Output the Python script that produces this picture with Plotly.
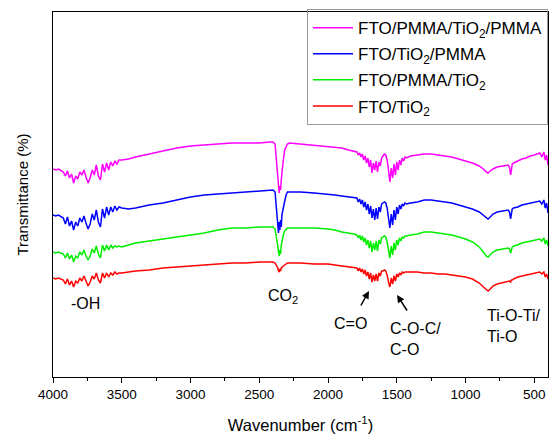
import plotly.graph_objects as go

# Wavenumber grid (cm^-1)
wavenumber = [
    4000, 3980, 3960, 3940,
    3925, 3910, 3895, 3880, 3865, 3850, 3835, 3820, 3805, 3790, 3775, 3760, 3745, 3730,
    3715, 3700, 3685, 3670, 3655, 3640, 3625, 3610, 3595, 3580, 3565, 3550, 3535, 3520,
    3500, 3450, 3400, 3300, 3200, 3100, 3000, 2900, 2800, 2700, 2600, 2500, 2420,
    2400, 2385, 2375, 2365, 2360, 2355, 2350, 2345, 2340, 2335, 2325, 2315, 2305, 2295, 2280,
    2200, 2100, 2000, 1950, 1900, 1850, 1810,
    1790, 1780, 1770, 1760, 1750, 1740, 1730, 1720, 1710, 1700, 1690, 1680, 1670, 1660,
    1650, 1640, 1630, 1620, 1610, 1600,
    1590, 1580, 1570,
    1560, 1550, 1540, 1530, 1520, 1510, 1500, 1490, 1480, 1470, 1460, 1450, 1440, 1430,
    1400, 1350, 1300, 1250, 1200, 1150, 1100, 1050, 1000, 950,
    900, 870, 850, 836, 820, 800, 770, 740, 710, 690,
    680, 672, 666, 660, 650, 620, 590, 560, 530, 500,
    480, 460, 445, 430, 420, 410, 400,
]

# Transmittance (arbitrary units, spectra stacked)
t_pmma_tio2_pmma = [
    231, 230, 231, 229,
    228, 224, 229, 222, 226, 217, 224, 221, 228, 225, 230, 223, 217, 222,
    230, 225, 235, 224, 220, 236, 228, 237, 230, 238, 234, 239, 236, 240,
    240, 241, 243, 246, 249, 252, 254, 255, 256, 257, 257, 257, 258,
    258, 256, 242, 225, 215, 207, 214, 210, 220, 228, 240, 250, 254, 256, 257,
    256, 255, 254, 253, 252, 250, 249,
    248, 245, 247, 243, 246, 240, 244, 237, 242, 233, 240, 227, 237, 230,
    239, 228, 238, 234, 242, 244,
    246, 245, 240,
    230, 218, 232, 222, 236, 225, 238, 230, 240, 235, 242, 239, 243, 242,
    244, 245, 246, 246, 245, 244, 243, 241, 239, 237,
    234, 231, 228, 227, 229, 231, 233, 234, 235, 235,
    233, 225, 230, 236, 237, 239, 241, 242, 244, 245,
    246, 247, 243, 248, 240, 245, 235,
]

t_tio2_pmma = [
    185, 184, 185, 183,
    182, 176, 183, 174, 179, 170, 178, 174, 182, 178, 184, 177, 171, 176,
    186, 180, 190, 178, 173, 191, 182, 193, 185, 193, 188, 194, 190, 193,
    192, 191, 192, 195, 197, 200, 203, 205, 206, 207, 208, 209, 210,
    210, 208, 195, 175, 167, 178, 170, 180, 173, 185, 192, 200, 205, 208, 208,
    208, 207, 206, 205, 204, 203, 202,
    202, 198, 201, 196, 200, 193, 198, 190, 196, 186, 194, 182, 191, 180,
    192, 181, 193, 188, 196, 197,
    198, 197, 192,
    182, 172, 186, 175, 190, 180, 193, 186, 195, 191, 196, 194, 197, 196,
    197, 198, 200, 200, 199, 198, 197, 195, 193, 191,
    188, 185, 183, 181, 183, 186, 188, 189, 190, 190,
    188, 181, 186, 191, 192, 193, 195, 196, 197, 198,
    198, 199, 196, 200, 192, 197, 187,
]

t_pmma_tio2 = [
    148, 147, 148, 147,
    146, 142, 147, 141, 145, 138, 144, 142, 148, 145, 150, 144, 140, 144,
    151, 147, 154, 146, 142, 155, 149, 155, 150, 155, 152, 154, 153, 154,
    153, 155, 157, 159, 161, 163, 165, 167, 170, 172, 172, 173, 173,
    173, 171, 164, 154, 148, 144, 150, 146, 155, 160, 165, 169, 171, 172, 172,
    172, 172, 171, 170, 168, 167, 166,
    165, 162, 165, 160, 164, 158, 162, 155, 160, 152, 159, 148, 157, 150,
    159, 149, 160, 156, 162, 163,
    164, 163, 158,
    150, 142, 154, 145, 157, 150, 160, 155, 162, 159, 163, 162, 164, 164,
    165, 166, 168, 168, 167, 166, 165, 163, 161, 158,
    153, 148, 144, 143, 145, 148, 150, 151, 152, 152,
    151, 147, 150, 153, 154, 155, 157, 158, 159, 160,
    160, 161, 159, 162, 156, 160, 154,
]

t_tio2 = [
    122, 121, 122, 121,
    120, 116, 121, 115, 119, 113, 119, 117, 122, 119, 124, 119, 114, 118,
    124, 121, 127, 120, 117, 127, 122, 127, 123, 127, 125, 128, 126, 127,
    127, 128, 129, 130, 132, 133, 134, 135, 136, 137, 137, 138, 138,
    138, 137, 135, 132, 129, 128, 131, 129, 132, 133, 134, 135, 136, 137, 137,
    137, 136, 136, 135, 134, 133, 132,
    132, 129, 132, 128, 131, 126, 130, 124, 128, 121, 127, 118, 125, 119,
    126, 119, 127, 124, 129, 129,
    130, 129, 125,
    118, 113, 122, 116, 124, 119, 126, 123, 127, 125, 128, 127, 128, 128,
    128, 128, 127, 127, 126, 126, 125, 124, 123, 121,
    117, 113, 110, 109, 111, 114, 116, 117, 118, 119,
    119, 118, 120, 120, 121, 123, 124, 125, 126, 127,
    127, 128, 126, 128, 123, 126, 121,
]

series_names = [
    "FTO/PMMA/TiO<sub>2</sub>/PMMA",
    "FTO/TiO<sub>2</sub>/PMMA",
    "FTO/PMMA/TiO<sub>2</sub>",
    "FTO/TiO<sub>2</sub>",
]
series_values = [t_pmma_tio2_pmma, t_tio2_pmma, t_pmma_tio2, t_tio2]
series_colors = ["#FF00FF", "#0000FF", "#00EE00", "#FF0000"]

tick_values = [4000, 3500, 3000, 2500, 2000, 1500, 1000, 500]

FONT = "Liberation Sans, Arial, sans-serif"

fig = go.Figure()
for i, (name, vals, col) in enumerate(zip(series_names, series_values, series_colors)):
    fig.add_trace(go.Scatter(x=wavenumber, y=vals, mode="lines", name=name,
                             legendgroup="g%d" % i,
                             line=dict(color=col, width=1.5)))

annots = [
    dict(x=3767, y=97, text="-OH", showarrow=False),
    dict(x=2327, y=104, text="CO<sub>2</sub>", showarrow=False),
    dict(x=1833, y=77, text="C=O", showarrow=False),
    dict(x=1564, y=61, text="C-O-C/<br>C-O", showarrow=False, xanchor="left", align="left"),
    dict(x=858, y=74.5, text="Ti-O-Ti/<br>Ti-O", showarrow=False, xanchor="left", align="left"),
    dict(x=1702, y=109, ax=1767, ay=93, axref="x", ayref="y", text="", showarrow=True,
         arrowhead=2, arrowsize=1, arrowwidth=1.5, arrowcolor="black"),
    dict(x=1498, y=105, ax=1418, ay=88, axref="x", ayref="y", text="", showarrow=True,
         arrowhead=2, arrowsize=1, arrowwidth=1.5, arrowcolor="black"),
]
for a in annots:
    a.setdefault("font", dict(family=FONT, size=16, color="black"))
    a["xref"] = "x"
    a["yref"] = "y"

fig.update_layout(
    width=553, height=434,
    margin=dict(l=53, r=5, t=12, b=57, autoexpand=False),
    paper_bgcolor="white", plot_bgcolor="white",
    font=dict(family=FONT, color="black"),
    showlegend=True,
    legend=dict(x=1, xanchor="right", y=1.008, yanchor="top",
                tracegroupgap=1, itemwidth=40,
                bgcolor="rgba(255,255,255,0)", bordercolor="#999999", borderwidth=1,
                font=dict(family=FONT, size=17, color="black")),
    annotations=annots,
    xaxis=dict(range=[4000, 400], tickvals=tick_values, ticks="outside", ticklen=5,
               tickwidth=1, tickcolor="black",
               minor=dict(dtick=250, ticks="outside", ticklen=3, tickcolor="black"),
               showline=True, linecolor="black", linewidth=1.3, mirror=True,
               showgrid=False, zeroline=False, automargin=False,
               tickfont=dict(family=FONT, size=13.5, color="black"),
               title=dict(text="Wavenumber (cm<sup>-1</sup>)",
                          font=dict(family=FONT, size=16.5, color="black"), standoff=20)),
    yaxis=dict(range=[23, 388], showticklabels=False, ticks="",
               showline=True, linecolor="black", linewidth=1.3, mirror=True,
               showgrid=False, zeroline=False, automargin=False,
               title=dict(text="Transmittance (%)",
                          font=dict(family=FONT, size=15, color="black"), standoff=19)),
)

fig.write_html("out.html", config={"displayModeBar": False},
               post_script="document.body.style.margin='0';")
